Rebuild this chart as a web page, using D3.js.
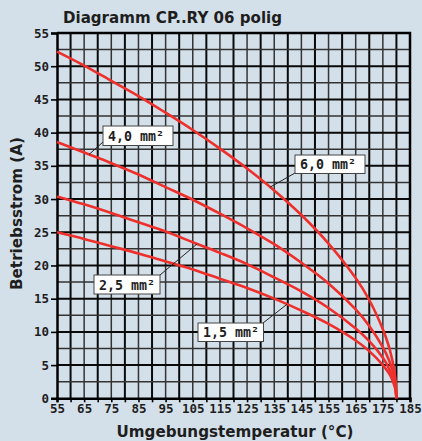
<!DOCTYPE html>
<html>
<head>
<meta charset="utf-8">
<script src="https://cdn.jsdelivr.net/npm/d3@7"></script>
<style>
  body { margin: 0; background: #d4e0e9; }
  svg { display: block; }
</style>
</head>
<body>
<svg id="chart" width="422" height="441"></svg>
<script>
const temps = [55, 65, 75, 85, 95, 105, 115, 125, 135, 145, 155, 165, 170, 175, 177, 178, 179, 179.6, 180];
// operating current (A) per cross-section
const curve60 = [52.2, 50.1, 47.8, 45.5, 43.0, 40.4, 37.6, 34.6, 31.3, 27.6, 23.3, 18.1, 14.8, 10.4, 8.1, 6.6, 4.7, 3.0, 0];
const curve40 = [38.6, 37.0, 35.4, 33.7, 31.8, 29.9, 27.8, 25.6, 23.2, 20.4, 17.3, 13.4, 10.9, 7.7, 6.0, 4.9, 3.5, 2.2, 0];
const curve25 = [30.4, 29.2, 27.9, 26.5, 25.1, 23.5, 21.9, 20.2, 18.2, 16.1, 13.6, 10.5, 8.6, 6.1, 4.7, 3.8, 2.7, 1.7, 0];
const curve15 = [25.0, 24.0, 22.9, 21.8, 20.6, 19.4, 18.0, 16.6, 15.0, 13.2, 11.2, 8.7, 7.1, 5.0, 3.9, 3.2, 2.2, 1.4, 0];
const seriesNames = ["6,0 mm²", "4,0 mm²", "2,5 mm²", "1,5 mm²"];
const xTickLabels = [55, 65, 75, 85, 95, 105, 115, 125, 135, 145, 155, 165, 175, 185];
const yTickLabels = [0, 5, 10, 15, 20, 25, 30, 35, 40, 45, 50, 55];

const series = [curve60, curve40, curve25, curve15].map((vals, i) => ({
  name: seriesNames[i],
  points: temps.map((t, j) => ({ t: t, a: vals[j] })),
}));

const svg = d3.select("#chart");
const red = "#ee2f2b";
const mono = "'DejaVu Sans Mono', monospace";
const sans = "'DejaVu Sans', sans-serif";

const x = d3.scaleLinear().domain([55, 185]).range([57, 410]);
const y = d3.scaleLinear().domain([0, 55]).range([398.3, 33]);

svg.append("rect").attr("width", 422).attr("height", 441).attr("fill", "#d4e0e9");

// grid
const grid = svg.append("g");
grid.selectAll("line.v")
  .data(d3.range(60, 185, 5))
  .join("line")
  .attr("x1", (d) => x(d)).attr("x2", (d) => x(d))
  .attr("y1", y(0)).attr("y2", y(55))
  .attr("stroke", (d, i) => (i % 2 ? "#333" : "#0a0a0a"))
  .attr("stroke-width", (d, i) => (i % 2 ? 1.5 : 2));
grid.selectAll("line.h")
  .data(d3.range(2.5, 55, 2.5))
  .join("line")
  .attr("x1", x(55)).attr("x2", x(185))
  .attr("y1", (d) => y(d)).attr("y2", (d) => y(d))
  .attr("stroke", (d, i) => (i % 2 ? "#0a0a0a" : "#333"))
  .attr("stroke-width", (d, i) => (i % 2 ? 2 : 1.5));

// frame top/right
svg.append("path")
  .attr("d", `M${x(55)},${y(55)}H${x(185)}V${y(0)}`)
  .attr("fill", "none").attr("stroke", "#000").attr("stroke-width", 2.5);

// axes
const xAxis = svg.append("g")
  .attr("transform", `translate(0,${y(0)})`)
  .call(d3.axisBottom(x)
    .tickValues(d3.range(55, 186, 5))
    .tickSize(4)
    .tickPadding(3)
    .tickFormat((d) => (xTickLabels.includes(d) ? d : "")));
const yAxis = svg.append("g")
  .attr("transform", `translate(${x(55)},0)`)
  .call(d3.axisLeft(y)
    .tickValues(yTickLabels)
    .tickSize(6)
    .tickPadding(2));
[xAxis, yAxis].forEach((ax) => {
  ax.select(".domain").attr("stroke", "#000").attr("stroke-width", 2.5);
  ax.selectAll(".tick line").attr("stroke", "#000").attr("stroke-width", 1.6);
  ax.selectAll(".tick text")
    .attr("fill", "#1e1e1e")
    .style("font-family", mono)
    .style("font-size", "12.5px")
    .style("font-weight", "bold");
});
xAxis.selectAll(".tick text").attr("dy", "0.62em");

// curves
const line = d3.line()
  .x((d) => x(d.t))
  .y((d) => y(d.a))
  .curve(d3.curveCatmullRom.alpha(0.5));
svg.append("g").selectAll("path")
  .data(series)
  .join("path")
  .attr("d", (d) => line(d.points))
  .attr("fill", "none")
  .attr("stroke", red)
  .attr("stroke-width", 2.6);

// labels with leader lines
const notes = [
  { s: 1, t: 66.8, box: [103, 126, 70, 19.5], end: [103, 142] },
  { s: 0, t: 133.5, box: [295, 155, 70, 18.5], end: [295, 173] },
  { s: 2, t: 106.6, box: [94, 275, 66, 19], end: [160, 275] },
  { s: 3, t: 139.7, box: [198, 323, 65.5, 18.5], end: [263, 323] },
];
const valueAt = (pts, t) => {
  const i = d3.bisector((p) => p.t).right(pts, t);
  const a = pts[i - 1], b = pts[i];
  return a.a + (b.a - a.a) * (t - a.t) / (b.t - a.t);
};
const noteG = svg.append("g");
notes.forEach((n) => {
  const pts = series[n.s].points;
  noteG.append("line")
    .attr("x1", x(n.t)).attr("y1", y(valueAt(pts, n.t)))
    .attr("x2", n.end[0]).attr("y2", n.end[1])
    .attr("stroke", "#222").attr("stroke-width", 1);
  noteG.append("rect")
    .attr("x", n.box[0]).attr("y", n.box[1])
    .attr("width", n.box[2]).attr("height", n.box[3])
    .attr("fill", "#fff").attr("stroke", "#444").attr("stroke-width", 1);
  noteG.append("text")
    .attr("x", n.box[0] + 5)
    .attr("y", n.box[1] + n.box[3] / 2 + 5)
    .attr("textLength", 56).attr("lengthAdjust", "spacingAndGlyphs")
    .attr("fill", "#1e1e1e")
    .style("font-family", mono)
    .style("font-size", "13.5px")
    .style("font-weight", "bold")
    .text(series[n.s].name);
});

// titles
svg.append("text")
  .attr("x", 63).attr("y", 23)
  .attr("textLength", 219).attr("lengthAdjust", "spacingAndGlyphs")
  .attr("fill", "#1e1e1e")
  .style("font-family", sans).style("font-size", "15px").style("font-weight", "bold")
  .text("Diagramm CP..RY 06 polig");
svg.append("text")
  .attr("x", 116.5).attr("y", 437)
  .attr("textLength", 237).attr("lengthAdjust", "spacingAndGlyphs")
  .attr("fill", "#1e1e1e")
  .style("font-family", sans).style("font-size", "15.5px").style("font-weight", "bold")
  .text("Umgebungstemperatur (°C)");
svg.append("text")
  .attr("transform", "translate(22,290) rotate(-90)")
  .attr("textLength", 153).attr("lengthAdjust", "spacingAndGlyphs")
  .attr("fill", "#1e1e1e")
  .style("font-family", sans).style("font-size", "15.5px").style("font-weight", "bold")
  .text("Betriebsstrom (A)");
</script>
</body>
</html>
